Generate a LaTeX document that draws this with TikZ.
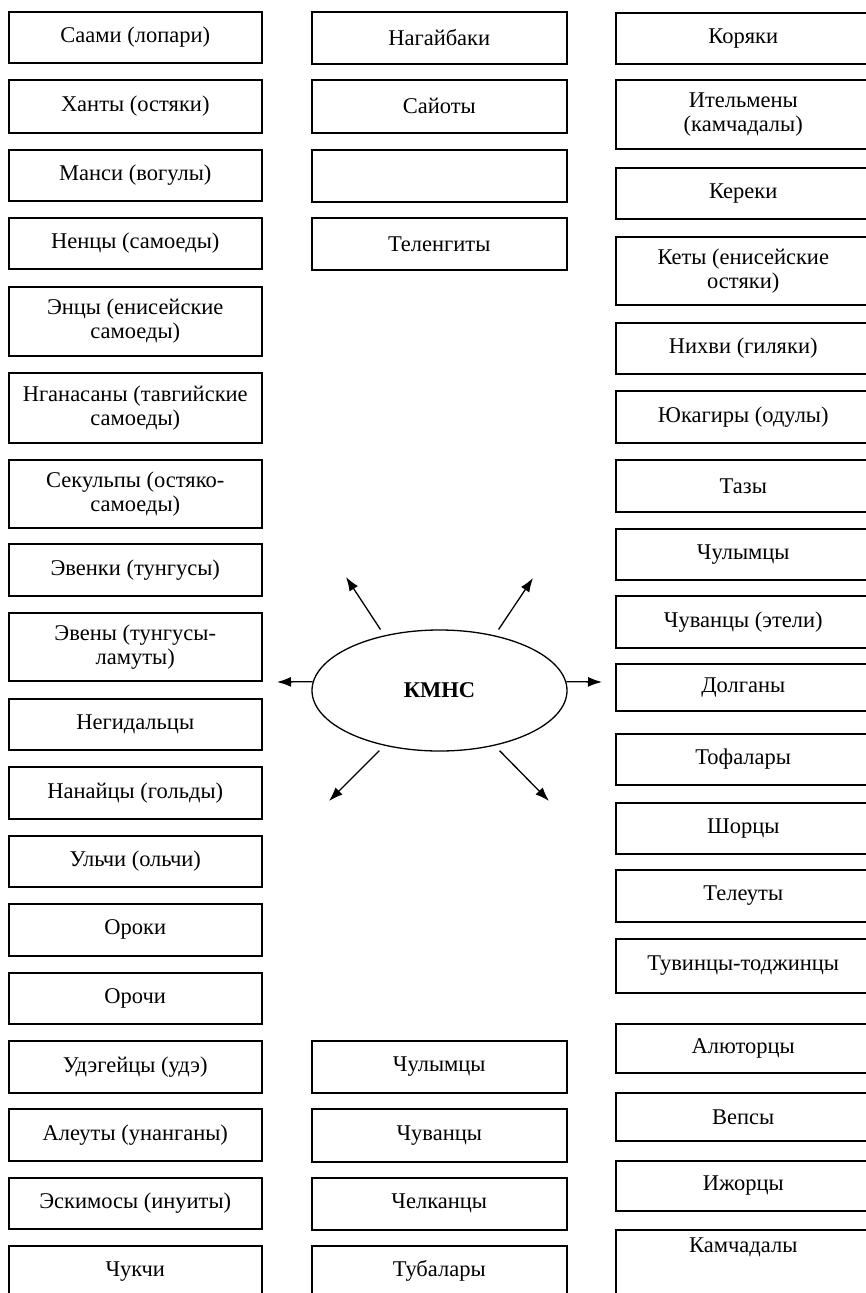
\documentclass[tikz,border=0pt]{standalone}
\usepackage{fontspec}
\setmainfont{Liberation Serif}
\usepackage{tikz}
\usetikzlibrary{shapes.geometric, arrows.meta}
\def\leftcol{11/62/{Саами (лопари)}, 79/132/{Ханты (остяки)}, 149/200/{Манси (вогулы)},
  217/268/{Ненцы (самоеды)}, 286/355/{Энцы (енисейские\\самоеды)},
  372/442/{Нганасаны (тавгийские\\самоеды)}, 459/527/{Секульпы (остяко-\\самоеды)},
  543/595/{Эвенки (тунгусы)}, 612/680/{Эвены (тунгусы-\\ламуты)}, 698/749/{Негидальцы},
  766/818/{Нанайцы (гольды)}, 835/886/{Ульчи (ольчи)}, 903/955/{Ороки}, 972/1023/{Орочи},
  1040/1092/{Удэгейцы (удэ)}, 1108/1160/{Алеуты (унанганы)}, 1177/1228/{Эскимосы (инуиты)}}
\def\midcol{11/63/{Нагайбаки}, 79/132/{Сайоты}, 149/201/{}, 217/269/{Теленгиты},
  1040/1092/{Чулымцы}, 1108/1161/{Чуванцы}, 1177/1229/{Челканцы}}
\def\rightcol{12/63/{Коряки}, 79/148/{Ительмены\\(камчадалы)}, 167/218/{Кереки},
  236/304/{Кеты (енисейские\\остяки)}, 322/373/{Нихви (гиляки)}, 390/442/{Юкагиры (одулы)},
  459/511/{Тазы}, 528/579/{Чулымцы}, 595/647/{Чуванцы (этели)}, 663/710/{Долганы},
  733/784/{Тофалары}, 802/853/{Шорцы}, 869/921/{Телеуты}, 938/992/{Тувинцы-тоджинцы},
  1023/1072/{Алюторцы}, 1092/1140/{Вепсы}, 1160/1210/{Ижорцы}}
\tikzset{
  ethbox/.style={draw, rectangle, line width=1.5pt, anchor=north west, align=center,
    inner sep=0pt, font=\fontsize{22.5}{24}\selectfont},
  openbox/.style={ethbox, text height=15pt, text depth=60pt, inner ysep=#1},
  ray/.style={-{Latex[length=14pt,width=10pt]}, line width=1.3pt}
}

\begin{document}
\begin{tikzpicture}[x=1pt, y=-1pt]
  \useasboundingbox (0,0) rectangle (866,1293);
  \foreach \t/\b/\name [count=\c] in \leftcol {
    \node[ethbox, minimum width=253pt, minimum height={(\b-\t)*1pt}] (left\c) at (8,\t) {\name};
  }
  \foreach \t/\b/\name [count=\c] in \midcol {
    \node[ethbox, minimum width=255pt, minimum height={(\b-\t)*1pt}] (mid\c) at (311,\t) {\name};
  }
  \foreach \t/\b/\name [count=\c] in \rightcol {
    \node[ethbox, minimum width=255pt, minimum height={(\b-\t)*1pt}] (right\c) at (615,\t) {\name};
  }
  \node[openbox=16pt, minimum width=253pt] (chukchi) at (8,1245) {Чукчи};
  \node[openbox=16pt, minimum width=255pt] (tubalar) at (311,1245) {Тубалары};
  \node[openbox=8pt, minimum width=255pt] (kamchad) at (615,1229) {Камчадалы};

  \node[draw, ellipse, line width=1.3pt, minimum width=255pt, minimum height=121pt, inner sep=0pt,
    font=\fontsize{22.5}{24}\selectfont\bfseries] (kmns) at (439.5,690.5) {КМНС};
  \coordinate (tipw) at (277,682);
  \coordinate (tipe) at (602,682);
  \coordinate (tipnw) at (346,577);
  \coordinate (tipne) at (533,578);
  \coordinate (tipsw) at (329,801);
  \coordinate (tipse) at (549,801);
  \draw[ray] (kmns.176) -- (tipw);
  \draw[ray] (kmns.4) -- (tipe);
  \foreach \a/\tip in {135/tipnw, 45/tipne, 225/tipsw, 315/tipse}{
    \draw[ray, shorten <=7pt] (kmns.\a) -- (\tip);
  }
\end{tikzpicture}
\end{document}
